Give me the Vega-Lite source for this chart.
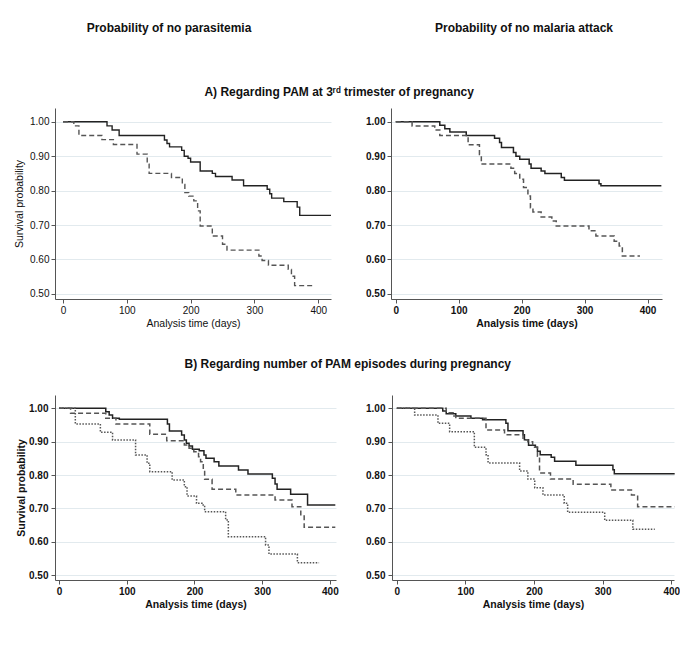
{
  "$schema": "https://vega.github.io/schema/vega-lite/v6.json",
  "padding": {"left": 14, "top": 15, "right": 0, "bottom": 5},
  "background": "white",
  "config": {
    "view": {"stroke": null},
    "font": "Liberation Sans",
    "axis": {"domainColor": "#555", "tickColor": "#555", "labelColor": "#111", "titleColor": "#111", "gridColor": "#e2eaee", "labelFont": "Liberation Sans", "titleFont": "Liberation Sans", "labelFontSize": 10, "titleFontSize": 10.5, "tickSize": 4, "domainWidth": 1, "tickWidth": 1},
    "axisY": {"minExtent": 25, "maxExtent": 25},
    "title": {"font": "Liberation Sans", "fontWeight": "bold", "fontSize": 12, "color": "#111", "anchor": "middle"}
  },
  "datasets": {
    "km": [
      {"p":"AL","g":"solid","d":0,"s":1},{"p":"AL","g":"solid","d":69,"s":0.988},{"p":"AL","g":"solid","d":77,"s":0.976},{"p":"AL","g":"solid","d":88,"s":0.96},{"p":"AL","g":"solid","d":159,"s":0.947},{"p":"AL","g":"solid","d":163,"s":0.937},{"p":"AL","g":"solid","d":167,"s":0.927},{"p":"AL","g":"solid","d":186,"s":0.917},{"p":"AL","g":"solid","d":190,"s":0.90},{"p":"AL","g":"solid","d":196,"s":0.894},{"p":"AL","g":"solid","d":200,"s":0.883},{"p":"AL","g":"solid","d":215,"s":0.857},{"p":"AL","g":"solid","d":234,"s":0.85},{"p":"AL","g":"solid","d":239,"s":0.841},{"p":"AL","g":"solid","d":265,"s":0.831},{"p":"AL","g":"solid","d":283,"s":0.814},{"p":"AL","g":"solid","d":320,"s":0.804},{"p":"AL","g":"solid","d":324,"s":0.791},{"p":"AL","g":"solid","d":327,"s":0.778},{"p":"AL","g":"solid","d":346,"s":0.768},{"p":"AL","g":"solid","d":367,"s":0.752},{"p":"AL","g":"solid","d":371,"s":0.728},{"p":"AL","g":"solid","d":420,"s":0.728},
      {"p":"AL","g":"dashed","d":0,"s":1},{"p":"AL","g":"dashed","d":17,"s":0.988},{"p":"AL","g":"dashed","d":25,"s":0.96},{"p":"AL","g":"dashed","d":61,"s":0.948},{"p":"AL","g":"dashed","d":79,"s":0.934},{"p":"AL","g":"dashed","d":116,"s":0.906},{"p":"AL","g":"dashed","d":132,"s":0.877},{"p":"AL","g":"dashed","d":135,"s":0.85},{"p":"AL","g":"dashed","d":170,"s":0.838},{"p":"AL","g":"dashed","d":187,"s":0.818},{"p":"AL","g":"dashed","d":191,"s":0.794},{"p":"AL","g":"dashed","d":197,"s":0.784},{"p":"AL","g":"dashed","d":205,"s":0.77},{"p":"AL","g":"dashed","d":211,"s":0.741},{"p":"AL","g":"dashed","d":215,"s":0.697},{"p":"AL","g":"dashed","d":234,"s":0.668},{"p":"AL","g":"dashed","d":250,"s":0.644},{"p":"AL","g":"dashed","d":257,"s":0.627},{"p":"AL","g":"dashed","d":307,"s":0.61},{"p":"AL","g":"dashed","d":312,"s":0.597},{"p":"AL","g":"dashed","d":322,"s":0.583},{"p":"AL","g":"dashed","d":353,"s":0.571},{"p":"AL","g":"dashed","d":358,"s":0.551},{"p":"AL","g":"dashed","d":363,"s":0.524},{"p":"AL","g":"dashed","d":391,"s":0.524},
      {"p":"AR","g":"solid","d":0,"s":1},{"p":"AR","g":"solid","d":70,"s":0.99},{"p":"AR","g":"solid","d":78,"s":0.98},{"p":"AR","g":"solid","d":86,"s":0.97},{"p":"AR","g":"solid","d":112,"s":0.96},{"p":"AR","g":"solid","d":157,"s":0.952},{"p":"AR","g":"solid","d":165,"s":0.94},{"p":"AR","g":"solid","d":168,"s":0.925},{"p":"AR","g":"solid","d":187,"s":0.911},{"p":"AR","g":"solid","d":191,"s":0.90},{"p":"AR","g":"solid","d":197,"s":0.891},{"p":"AR","g":"solid","d":212,"s":0.877},{"p":"AR","g":"solid","d":215,"s":0.865},{"p":"AR","g":"solid","d":231,"s":0.857},{"p":"AR","g":"solid","d":237,"s":0.85},{"p":"AR","g":"solid","d":263,"s":0.838},{"p":"AR","g":"solid","d":268,"s":0.83},{"p":"AR","g":"solid","d":323,"s":0.82},{"p":"AR","g":"solid","d":326,"s":0.814},{"p":"AR","g":"solid","d":422,"s":0.814},
      {"p":"AR","g":"dashed","d":0,"s":1},{"p":"AR","g":"dashed","d":26,"s":0.988},{"p":"AR","g":"dashed","d":62,"s":0.976},{"p":"AR","g":"dashed","d":70,"s":0.96},{"p":"AR","g":"dashed","d":115,"s":0.933},{"p":"AR","g":"dashed","d":133,"s":0.905},{"p":"AR","g":"dashed","d":136,"s":0.877},{"p":"AR","g":"dashed","d":183,"s":0.865},{"p":"AR","g":"dashed","d":189,"s":0.85},{"p":"AR","g":"dashed","d":197,"s":0.833},{"p":"AR","g":"dashed","d":203,"s":0.809},{"p":"AR","g":"dashed","d":210,"s":0.784},{"p":"AR","g":"dashed","d":214,"s":0.75},{"p":"AR","g":"dashed","d":218,"s":0.738},{"p":"AR","g":"dashed","d":231,"s":0.723},{"p":"AR","g":"dashed","d":248,"s":0.712},{"p":"AR","g":"dashed","d":255,"s":0.697},{"p":"AR","g":"dashed","d":307,"s":0.683},{"p":"AR","g":"dashed","d":318,"s":0.668},{"p":"AR","g":"dashed","d":347,"s":0.653},{"p":"AR","g":"dashed","d":355,"s":0.639},{"p":"AR","g":"dashed","d":360,"s":0.61},{"p":"AR","g":"dashed","d":388,"s":0.61},
      {"p":"BL","g":"solid","d":0,"s":1},{"p":"BL","g":"solid","d":69,"s":0.99},{"p":"BL","g":"solid","d":74,"s":0.98},{"p":"BL","g":"solid","d":79,"s":0.97},{"p":"BL","g":"solid","d":89,"s":0.967},{"p":"BL","g":"solid","d":160,"s":0.953},{"p":"BL","g":"solid","d":163,"s":0.932},{"p":"BL","g":"solid","d":181,"s":0.92},{"p":"BL","g":"solid","d":185,"s":0.905},{"p":"BL","g":"solid","d":188,"s":0.895},{"p":"BL","g":"solid","d":192,"s":0.887},{"p":"BL","g":"solid","d":197,"s":0.877},{"p":"BL","g":"solid","d":207,"s":0.873},{"p":"BL","g":"solid","d":214,"s":0.86},{"p":"BL","g":"solid","d":217,"s":0.85},{"p":"BL","g":"solid","d":229,"s":0.84},{"p":"BL","g":"solid","d":236,"s":0.827},{"p":"BL","g":"solid","d":265,"s":0.815},{"p":"BL","g":"solid","d":279,"s":0.803},{"p":"BL","g":"solid","d":315,"s":0.79},{"p":"BL","g":"solid","d":319,"s":0.773},{"p":"BL","g":"solid","d":322,"s":0.757},{"p":"BL","g":"solid","d":342,"s":0.742},{"p":"BL","g":"solid","d":367,"s":0.71},{"p":"BL","g":"solid","d":408,"s":0.71},
      {"p":"BL","g":"dashed","d":0,"s":1},{"p":"BL","g":"dashed","d":17,"s":0.985},{"p":"BL","g":"dashed","d":69,"s":0.97},{"p":"BL","g":"dashed","d":84,"s":0.953},{"p":"BL","g":"dashed","d":134,"s":0.922},{"p":"BL","g":"dashed","d":159,"s":0.903},{"p":"BL","g":"dashed","d":185,"s":0.89},{"p":"BL","g":"dashed","d":192,"s":0.88},{"p":"BL","g":"dashed","d":199,"s":0.87},{"p":"BL","g":"dashed","d":206,"s":0.855},{"p":"BL","g":"dashed","d":209,"s":0.84},{"p":"BL","g":"dashed","d":213,"s":0.815},{"p":"BL","g":"dashed","d":215,"s":0.787},{"p":"BL","g":"dashed","d":226,"s":0.757},{"p":"BL","g":"dashed","d":261,"s":0.74},{"p":"BL","g":"dashed","d":319,"s":0.725},{"p":"BL","g":"dashed","d":344,"s":0.705},{"p":"BL","g":"dashed","d":357,"s":0.677},{"p":"BL","g":"dashed","d":362,"s":0.643},{"p":"BL","g":"dashed","d":408,"s":0.643},
      {"p":"BL","g":"dotted","d":0,"s":1},{"p":"BL","g":"dotted","d":24,"s":0.953},{"p":"BL","g":"dotted","d":61,"s":0.928},{"p":"BL","g":"dotted","d":79,"s":0.905},{"p":"BL","g":"dotted","d":113,"s":0.86},{"p":"BL","g":"dotted","d":130,"s":0.835},{"p":"BL","g":"dotted","d":134,"s":0.81},{"p":"BL","g":"dotted","d":167,"s":0.785},{"p":"BL","g":"dotted","d":185,"s":0.765},{"p":"BL","g":"dotted","d":189,"s":0.737},{"p":"BL","g":"dotted","d":203,"s":0.715},{"p":"BL","g":"dotted","d":211,"s":0.71},{"p":"BL","g":"dotted","d":215,"s":0.69},{"p":"BL","g":"dotted","d":246,"s":0.665},{"p":"BL","g":"dotted","d":250,"s":0.615},{"p":"BL","g":"dotted","d":305,"s":0.59},{"p":"BL","g":"dotted","d":310,"s":0.563},{"p":"BL","g":"dotted","d":352,"s":0.537},{"p":"BL","g":"dotted","d":384,"s":0.537},
      {"p":"BR","g":"solid","d":0,"s":1},{"p":"BR","g":"solid","d":67,"s":0.992},{"p":"BR","g":"solid","d":72,"s":0.984},{"p":"BR","g":"solid","d":86,"s":0.977},{"p":"BR","g":"solid","d":108,"s":0.97},{"p":"BR","g":"solid","d":125,"s":0.966},{"p":"BR","g":"solid","d":159,"s":0.955},{"p":"BR","g":"solid","d":162,"s":0.933},{"p":"BR","g":"solid","d":184,"s":0.921},{"p":"BR","g":"solid","d":186,"s":0.906},{"p":"BR","g":"solid","d":192,"s":0.889},{"p":"BR","g":"solid","d":202,"s":0.883},{"p":"BR","g":"solid","d":205,"s":0.871},{"p":"BR","g":"solid","d":209,"s":0.861},{"p":"BR","g":"solid","d":225,"s":0.853},{"p":"BR","g":"solid","d":230,"s":0.841},{"p":"BR","g":"solid","d":261,"s":0.829},{"p":"BR","g":"solid","d":315,"s":0.816},{"p":"BR","g":"solid","d":317,"s":0.804},{"p":"BR","g":"solid","d":405,"s":0.804},
      {"p":"BR","g":"dashed","d":0,"s":1},{"p":"BR","g":"dashed","d":72,"s":0.987},{"p":"BR","g":"dashed","d":82,"s":0.977},{"p":"BR","g":"dashed","d":86,"s":0.97},{"p":"BR","g":"dashed","d":130,"s":0.935},{"p":"BR","g":"dashed","d":157,"s":0.921},{"p":"BR","g":"dashed","d":184,"s":0.906},{"p":"BR","g":"dashed","d":191,"s":0.90},{"p":"BR","g":"dashed","d":198,"s":0.883},{"p":"BR","g":"dashed","d":205,"s":0.856},{"p":"BR","g":"dashed","d":208,"s":0.806},{"p":"BR","g":"dashed","d":224,"s":0.788},{"p":"BR","g":"dashed","d":257,"s":0.772},{"p":"BR","g":"dashed","d":312,"s":0.755},{"p":"BR","g":"dashed","d":342,"s":0.74},{"p":"BR","g":"dashed","d":351,"s":0.705},{"p":"BR","g":"dashed","d":405,"s":0.705},
      {"p":"BR","g":"dotted","d":0,"s":1},{"p":"BR","g":"dotted","d":26,"s":0.98},{"p":"BR","g":"dotted","d":60,"s":0.955},{"p":"BR","g":"dotted","d":77,"s":0.93},{"p":"BR","g":"dotted","d":113,"s":0.883},{"p":"BR","g":"dotted","d":130,"s":0.861},{"p":"BR","g":"dotted","d":133,"s":0.836},{"p":"BR","g":"dotted","d":179,"s":0.812},{"p":"BR","g":"dotted","d":191,"s":0.788},{"p":"BR","g":"dotted","d":201,"s":0.762},{"p":"BR","g":"dotted","d":213,"s":0.74},{"p":"BR","g":"dotted","d":244,"s":0.715},{"p":"BR","g":"dotted","d":249,"s":0.688},{"p":"BR","g":"dotted","d":303,"s":0.664},{"p":"BR","g":"dotted","d":344,"s":0.637},{"p":"BR","g":"dotted","d":376,"s":0.637}
    ]
  },
  "vconcat": [
    {
      "hconcat": [
        {"width": 228, "height": 42, "data": {"values": [{"t": "Probability of no parasitemia"}]}, "mark": {"type": "text", "fontWeight": "bold", "fontSize": 12, "color": "#111", "dy": -8}, "encoding": {"text": {"field": "t"}}},
        {"width": 228, "height": 42, "data": {"values": [{"t": "Probability of no malaria attack"}]}, "mark": {"type": "text", "fontWeight": "bold", "fontSize": 12, "color": "#111", "dy": -8}, "encoding": {"text": {"field": "t"}}}
      ],
      "spacing": 127
    },
    {
      "title": {"text": "A) Regarding PAM at 3ʳᵈ trimester of pregnancy", "offset": 9},
      "spacing": 31,
      "hconcat": [
        {
          "width": 276, "height": 191,
          "data": {"name": "km"},
          "transform": [{"filter": "datum.p === 'AL'"}],
          "mark": {"type": "line", "interpolate": "step-after", "strokeWidth": 1.4},
          "encoding": {
            "x": {"field": "d", "type": "quantitative", "scale": {"domain": [-12.5, 420], "nice": false, "zero": false}, "axis": {"values": [0, 100, 200, 300, 400], "title": "Analysis time (days)", "grid": false, "labelPadding": 2, "titlePadding": 3, "titleFontWeight": "normal"}},
            "y": {"field": "s", "type": "quantitative", "scale": {"domain": [0.485, 1.04], "nice": false, "zero": false}, "axis": {"values": [0.5, 0.6, 0.7, 0.8, 0.9, 1.0], "format": ".2f", "title": "Survival probability", "titlePadding": 6, "labelPadding": 2, "titleFontWeight": "normal"}},
            "color": {"field": "g", "type": "nominal", "scale": {"domain": ["solid", "dashed", "dotted"], "range": ["#222222", "#555555", "#555555"]}, "legend": null},
            "strokeDash": {"field": "g", "type": "nominal", "scale": {"domain": ["solid", "dashed", "dotted"], "range": [[1, 0], [5, 3], [1.5, 1.5]]}, "legend": null}
          }
        },
        {
          "width": 271, "height": 191,
          "data": {"name": "km"},
          "transform": [{"filter": "datum.p === 'AR'"}],
          "mark": {"type": "line", "interpolate": "step-after", "strokeWidth": 1.5},
          "encoding": {
            "x": {"field": "d", "type": "quantitative", "scale": {"domain": [-7.5, 423], "nice": false, "zero": false}, "axis": {"values": [0, 100, 200, 300, 400], "title": "Analysis time (days)", "grid": false, "labelPadding": 2, "titlePadding": 3, "labelFontWeight": "bold", "titleFontWeight": "bold"}},
            "y": {"field": "s", "type": "quantitative", "scale": {"domain": [0.485, 1.04], "nice": false, "zero": false}, "axis": {"values": [0.5, 0.6, 0.7, 0.8, 0.9, 1.0], "format": ".2f", "title": null, "labelPadding": 2, "labelFontWeight": "bold"}},
            "color": {"field": "g", "type": "nominal", "scale": {"domain": ["solid", "dashed", "dotted"], "range": ["#111111", "#222222", "#444444"]}, "legend": null},
            "strokeDash": {"field": "g", "type": "nominal", "scale": {"domain": ["solid", "dashed", "dotted"], "range": [[1, 0], [5, 3], [1.5, 1.5]]}, "legend": null}
          }
        }
      ]
    },
    {
      "title": {"text": "B) Regarding number of PAM episodes during pregnancy", "offset": 24},
      "spacing": 26,
      "hconcat": [
        {
          "width": 281, "height": 185,
          "data": {"name": "km"},
          "transform": [{"filter": "datum.p === 'BL'"}],
          "mark": {"type": "line", "interpolate": "step-after", "strokeWidth": 1.5},
          "encoding": {
            "x": {"field": "d", "type": "quantitative", "scale": {"domain": [-6, 409], "nice": false, "zero": false}, "axis": {"values": [0, 100, 200, 300, 400], "title": "Analysis time (days)", "grid": false, "labelPadding": 2, "titlePadding": 3, "labelFontWeight": "bold", "titleFontWeight": "bold"}},
            "y": {"field": "s", "type": "quantitative", "scale": {"domain": [0.485, 1.04], "nice": false, "zero": false}, "axis": {"values": [0.5, 0.6, 0.7, 0.8, 0.9, 1.0], "format": ".2f", "title": "Survival probability", "titlePadding": 4, "labelPadding": 3, "labelFontWeight": "bold", "titleFontWeight": "bold"}},
            "color": {"field": "g", "type": "nominal", "scale": {"domain": ["solid", "dashed", "dotted"], "range": ["#111111", "#222222", "#444444"]}, "legend": null},
            "strokeDash": {"field": "g", "type": "nominal", "scale": {"domain": ["solid", "dashed", "dotted"], "range": [[1, 0], [5, 3], [1.5, 1.5]]}, "legend": null}
          }
        },
        {
          "width": 282, "height": 185,
          "data": {"name": "km"},
          "transform": [{"filter": "datum.p === 'BR'"}],
          "mark": {"type": "line", "interpolate": "step-after", "strokeWidth": 1.5},
          "encoding": {
            "x": {"field": "d", "type": "quantitative", "scale": {"domain": [-7, 404], "nice": false, "zero": false}, "axis": {"values": [0, 100, 200, 300, 400], "title": "Analysis time (days)", "grid": false, "labelPadding": 2, "titlePadding": 3, "labelFontWeight": "bold", "titleFontWeight": "bold"}},
            "y": {"field": "s", "type": "quantitative", "scale": {"domain": [0.485, 1.04], "nice": false, "zero": false}, "axis": {"values": [0.5, 0.6, 0.7, 0.8, 0.9, 1.0], "format": ".2f", "title": null, "labelPadding": 3, "labelFontWeight": "bold"}},
            "color": {"field": "g", "type": "nominal", "scale": {"domain": ["solid", "dashed", "dotted"], "range": ["#111111", "#222222", "#444444"]}, "legend": null},
            "strokeDash": {"field": "g", "type": "nominal", "scale": {"domain": ["solid", "dashed", "dotted"], "range": [[1, 0], [5, 3], [1.5, 1.5]]}, "legend": null}
          }
        }
      ]
    }
  ],
  "spacing": 29
}
